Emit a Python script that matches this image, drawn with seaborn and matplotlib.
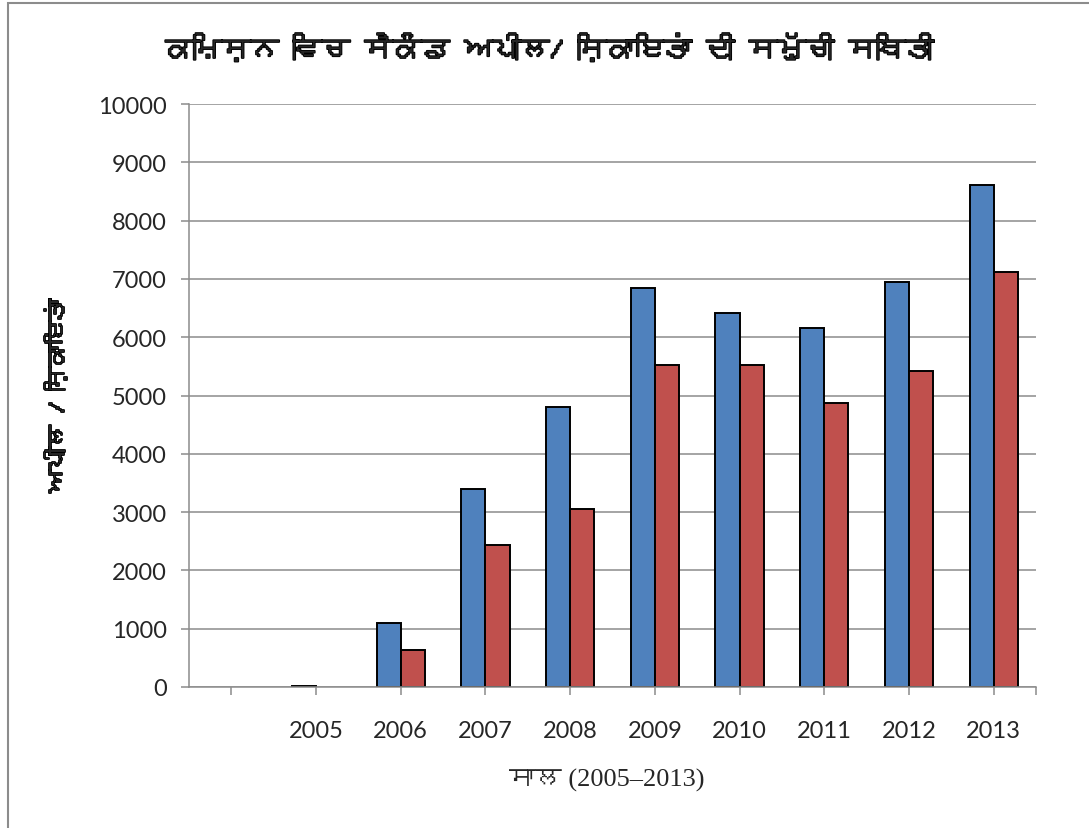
import numpy as np
import pandas as pd
import matplotlib
matplotlib.use('Agg')
import matplotlib.pyplot as plt
import matplotlib.patheffects as pe
import seaborn as sns
from matplotlib import font_manager, ft2font
from matplotlib.patches import Rectangle

# data (first slot is an empty category)
years = ['', '2005', '2006', '2007', '2008', '2009', '2010', '2011', '2012', '2013']
appeals = [np.nan, 25, 1100, 3390, 4810, 6840, 6410, 6160, 6950, 8610]
complaints = [np.nan, np.nan, 630, 2430, 3060, 5530, 5520, 4870, 5420, 7120]
series = ['appeals', 'complaints']
colors = ['#4F81BD', '#C0504D']

title = 'ਕਮਿਸ਼ਨ ਵਿਚ ਸੈਕੰਡ ਅਪੀਲ/ ਸ਼ਿਕਾਇਤਾਂ ਦੀ ਸਮੁੱਚੀ ਸਥਿਤੀ'
ylabel = 'ਅਪੀਲ / ਸ਼ਿਕਾਇਤਾਂ'
xlabel = 'ਸਾਲ (2005–2013)'


def find_font(ch):
    # look for an installed font that has this glyph
    for f in font_manager.fontManager.ttflist:
        try:
            if ord(ch) in ft2font.FT2Font(f.fname).get_charmap():
                return f.name
        except Exception:
            pass
    return 'DejaVu Sans'


guru = find_font('ਕ')

df = pd.DataFrame({
    'year': years * 2,
    'value': appeals + complaints,
    'series': [series[0]] * len(years) + [series[1]] * len(years),
})

sns.set_style('white')
plt.rcParams['font.family'] = ['Lato', guru, 'DejaVu Sans']

fig = plt.figure(figsize=(10.89, 8.29), dpi=100)
ax = fig.add_axes([189 / 1089, 1 - 688 / 829, (1036 - 189) / 1089, (688 - 105) / 829])

sns.barplot(data=df, x='year', y='value', hue='series', order=years,
            hue_order=series, palette=colors, saturation=1, width=0.57,
            edgecolor='black', linewidth=1.4, legend=False, ax=ax)

ax.set_xlim(-0.5, len(years) - 0.5)
ax.set_ylim(0, 10000)
ax.set_yticks(np.arange(0, 10001, 1000))
ax.yaxis.grid(True, color='#8c8c8c', linewidth=1.1)
ax.set_axisbelow(True)

for s in ['top', 'right']:
    ax.spines[s].set_visible(False)
for s in ['left', 'bottom']:
    ax.spines[s].set_color('#8c8c8c')
    ax.spines[s].set_linewidth(1.1)

ax.set_xticks(range(len(years)))
ax.set_xticks([len(years) - 0.5], minor=True)
ax.tick_params(axis='x', which='both', direction='out', length=6, width=1.1,
               color='#8c8c8c', bottom=True, pad=18, labelsize=17)
ax.tick_params(axis='y', direction='out', length=6, width=1.1,
               color='#8c8c8c', left=True, pad=10, labelsize=17)

# the Gurmukhi font has no bold face, so thicken it with a stroke
bold = [pe.withStroke(linewidth=1.3, foreground='black')]

ax.set_xlabel('')
ax.set_ylabel('')
fig.text(607 / 1089, 1 - 780 / 829, xlabel, ha='center', va='center',
         fontsize=19, family=['Liberation Serif', guru, 'DejaVu Sans'])
fig.text(55 / 1089, 1 - 397 / 829, ylabel, ha='center', va='center',
         rotation=90, fontsize=16.5, fontweight='bold',
         family=[guru, 'DejaVu Sans'], path_effects=bold)
fig.text(550 / 1089, 1 - 48 / 829, title, ha='center', va='center',
         fontsize=20.5, fontweight='bold', family=[guru, 'DejaVu Sans'],
         path_effects=bold)

# chart frame
fig.patches.append(Rectangle((8 / 1089, -0.1), 1.2, 1 - 4 / 829 + 0.1,
                             transform=fig.transFigure, fill=False,
                             edgecolor='#8c8c8c', linewidth=1.5))

fig.savefig('out.png', dpi=100)
